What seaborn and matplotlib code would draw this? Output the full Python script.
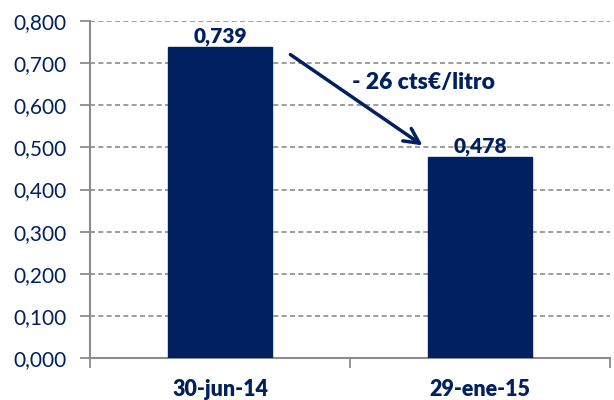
import matplotlib
matplotlib.use("Agg")
import matplotlib.pyplot as plt
import seaborn as sns
import pandas as pd

categories = ["30-jun-14", "29-ene-15"]
values = [0.739, 0.478]
yticks = [0.0, 0.1, 0.2, 0.3, 0.4, 0.5, 0.6, 0.7, 0.8]
annotation = "- 26 cts€/litro"

navy = "#002060"
grey = "#8c8c8c"

sns.set_theme(style="white")
plt.rcParams['font.family'] = ['Lato', 'DejaVu Sans']

df = pd.DataFrame({"fecha": categories, "valor": values})

fig = plt.figure(figsize=(6.14, 4.0), dpi=100)
ax = fig.add_axes([90/614, 42/400, 520/614, 337/400])
sns.barplot(data=df, x="fecha", y="valor", color=navy, saturation=1, width=0.4, ax=ax, zorder=3)
for p in ax.patches:
    p.set_edgecolor(navy)

ax.set_xlim(-0.5, 1.5)
ax.set_ylim(0, 0.8)
ax.set_yticks(yticks)
ax.set_yticklabels([f"{v:.3f}".replace(".", ",") for v in yticks], color=navy, fontsize=15)
ax.set_xticks([0, 1])
ax.set_xticklabels(categories, color=navy, fontsize=15.5, fontweight="heavy")
ax.tick_params(axis="x", length=0, pad=15)
ax.tick_params(axis="y", length=7, width=1.3, color=grey, direction="out", pad=10, left=True)
ax.set_xticks([-0.5, 0.5, 1.5], minor=True)
ax.tick_params(axis="x", which="minor", length=7, width=1.3, color=grey, direction="out", bottom=True)
ax.set_xlabel("")
ax.set_ylabel("")

for y in yticks[1:]:
    ax.axhline(y, color=grey, linestyle=(0, (3, 2)), linewidth=1.2, zorder=1)

for s in ["top", "right"]:
    ax.spines[s].set_visible(False)
for s in ["left", "bottom"]:
    ax.spines[s].set_color(grey)
    ax.spines[s].set_linewidth(1.5)

for i, v in enumerate(values):
    ax.text(i, v + 0.002, f"{v:.3f}".replace(".", ","), ha="center", va="bottom",
            color=navy, fontsize=15, fontweight="heavy")

ax.annotate("", xy=(0.788, 0.501), xytext=(0.262, 0.724),
            arrowprops=dict(arrowstyle="->,head_length=0.9,head_width=0.45", color=navy, lw=2.5))
ax.text(0.781, 0.655, annotation, ha="center", va="center", color=navy,
        fontsize=16.5, fontweight="heavy")

fig.savefig("out.png", dpi=100)
